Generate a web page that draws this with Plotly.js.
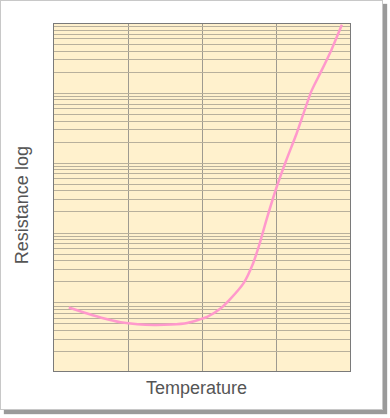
<!DOCTYPE html>
<html>
<head>
<meta charset="utf-8">
<script src="https://cdn.plot.ly/plotly-3.0.1.min.js"></script>
<style>
  html, body { margin: 0; padding: 0; background: #ffffff; }
  #frame {
    position: absolute; left: 0; top: 0;
    width: 381px; height: 408px;
    border: 1px solid #c8c8c8;
    background: #ffffff;
    box-shadow: 4px 4px 1px #9a9a9a;
  }
  #chart { position: absolute; left: 0; top: 0; width: 390px; height: 418px; }
</style>
</head>
<body>
<div id="frame"></div>
<div id="chart"></div>
<script>
// Temperature readings and measured resistance (log scale)
const temperature = [20, 45, 68, 90, 113, 135, 158, 180, 207, 225, 239, 256, 269, 278, 287, 301, 314, 328, 348, 361, 375, 389];
const resistance  = [8.6, 7.05, 5.98, 5.29, 4.95, 4.84, 4.90, 5.17, 6.3, 8.3, 11.6, 19, 36.7, 71, 153, 459, 1107, 2673, 10800, 20500, 42000, 95200];
const xTitle = "Temperature";
const yTitle = "Resistance log";

const titleFont = { family: "Liberation Sans, Arial, sans-serif", size: 18, color: "#555555" };

Plotly.newPlot("chart", [{
  x: temperature,
  y: resistance,
  type: "scatter",
  mode: "lines",
  line: { color: "#ff99cc", width: 2.5, shape: "spline", smoothing: 0.6 },
  hoverinfo: "none"
}], {
  width: 390, height: 418,
  margin: { l: 54, r: 40, t: 24, b: 47 },
  paper_bgcolor: "rgba(0,0,0,0)",
  plot_bgcolor: "#fff1cd",
  showlegend: false,
  xaxis: {
    range: [0, 400], dtick: 100, tick0: 0,
    showticklabels: false, ticks: "",
    showgrid: true, gridcolor: "#9e9a90", gridwidth: 1,
    zeroline: false,
    showline: true, mirror: true, linecolor: "#7a7a7a", linewidth: 1,
    automargin: false
  },
  yaxis: {
    type: "log", range: [0.026, 4.99], dtick: "D1",
    showticklabels: false, ticks: "",
    showgrid: true, gridcolor: "#b8b09c", gridwidth: 1,
    zeroline: false,
    showline: true, mirror: true, linecolor: "#7a7a7a", linewidth: 1,
    automargin: false
  },
  annotations: [
    { text: xTitle, xref: "paper", yref: "paper", x: 0.483, y: -0.049,
      xanchor: "center", yanchor: "middle", showarrow: false, font: titleFont },
    { text: yTitle, xref: "paper", yref: "paper", x: -0.108, y: 0.478,
      xanchor: "center", yanchor: "middle", showarrow: false, textangle: -90, font: titleFont }
  ]
}, { staticPlot: true, displayModeBar: false });
</script>
</body>
</html>
